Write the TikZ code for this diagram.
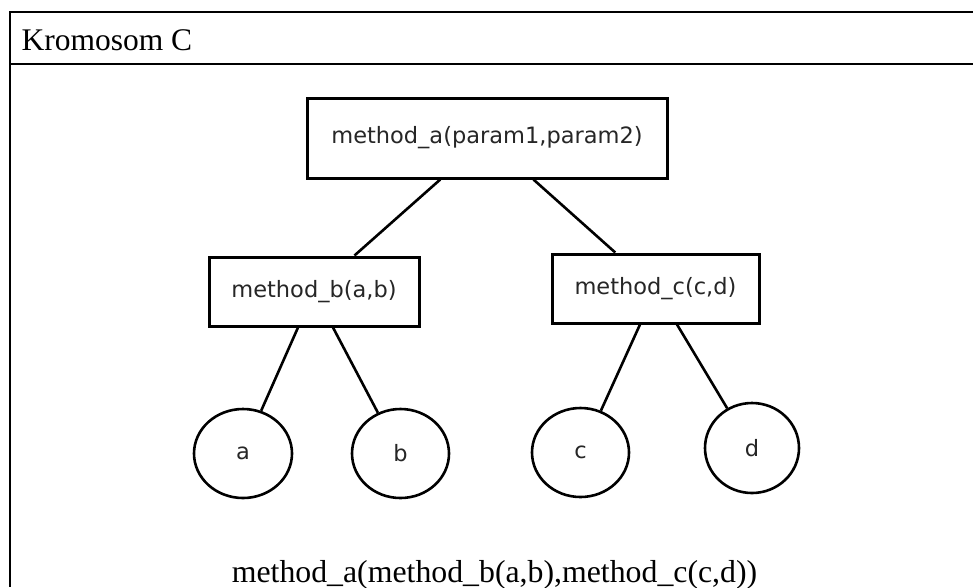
\documentclass[tikz,border=0pt]{standalone}
\usepackage{fontspec}
\usepackage{tikz}
\usepackage{xcolor}
\setmainfont{Liberation Serif}
\newfontfamily\boxfont{DejaVu Sans}
\usetikzlibrary{shapes,shapes.geometric,positioning,calc}

\begin{document}
\begin{tikzpicture}[x=1pt, y=-1pt,
    method/.style={draw, line width=3pt, inner sep=0pt, text=black!85, font=\boxfont\fontsize{22.5}{26}\selectfont},
    param/.style={ellipse, draw, line width=2.6pt, inner sep=0pt, text=black!85, font=\boxfont\fontsize{22.5}{26}\selectfont},
    branch/.style={line width=2.6pt}]
    \useasboundingbox (0,0) rectangle (973,587);

    % Frame
    \draw[line width=2pt] (973,12) -- (9.5,12) -- (9.5,587);
    \draw[line width=2pt] (9.5,64) -- (973,64);
    \node[anchor=base west, font=\fontsize{31.5}{36}\selectfont] (title) at (18,50) {Kromosom C};

    % Methods
    \node[method, minimum width=360pt, minimum height=80pt] (ma) at (487,138) {method\_a(param1,param2)};
    \node[method, minimum width=210pt, minimum height=69pt] (mb) at (314,291.5) {method\_b(a,b)};
    \node[method, minimum width=207pt, minimum height=69pt] (mc) at (655.5,288.5) {method\_c(c,d)};

    % Parameters
    \node[param, minimum width=98pt, minimum height=89pt] (a) at (243,453.5) {a};
    \node[param, minimum width=97pt, minimum height=89pt] (b) at (400.5,453.5) {b};
    \node[param, minimum width=97pt, minimum height=89pt] (c) at (580.5,452.5) {c};
    \node[param, minimum width=94pt, minimum height=90pt] (d) at (752,448) {d};

    % Branches
    \draw[branch] (ma) -- (mb);
    \draw[branch] (ma) -- (mc);
    \draw[branch] ([xshift=-16pt]mb.south) -- (a.67);
    \draw[branch] ([xshift=19pt]mb.south) -- (b.119);
    \draw[branch] ([xshift=-15.5pt]mc.south) -- (c.64);
    \draw[branch] ([xshift=21.5pt]mc.south) -- (d.122);

    % Expression
    \node[anchor=base, font=\fontsize{31.8}{36}\selectfont] (expr) at (494.5,582) {method\_a(method\_b(a,b),method\_c(c,d))};
\end{tikzpicture}
\end{document}
